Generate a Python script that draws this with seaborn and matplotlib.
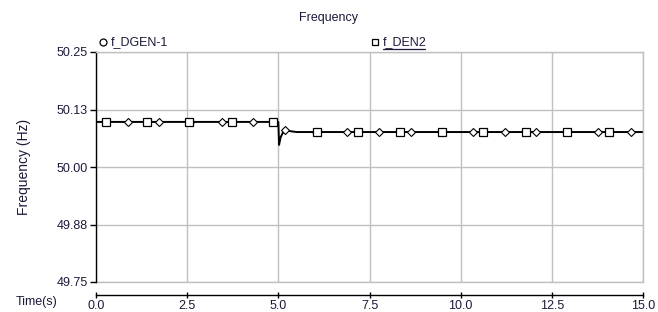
import matplotlib
matplotlib.use("Agg")
import matplotlib.pyplot as plt
from matplotlib.lines import Line2D
import seaborn as sns
import pandas as pd

# trace of the frequency (both generators follow the same curve)
time_s = [0.0, 4.99, 5.0, 5.02, 5.06, 5.12, 5.22, 5.32, 5.5, 15.0]
freq_hz = [50.098, 50.098, 50.098, 50.048, 50.064, 50.074, 50.080, 50.078, 50.076, 50.076]

# marker positions of each series
dgen_t = [0.87, 1.72, 2.58, 3.45, 4.31, 5.18, 6.04, 6.89, 7.76, 8.63, 9.48,
          10.35, 11.21, 12.06, 12.92, 13.77, 14.66]
dgen_f = [50.098, 50.098, 50.098, 50.098, 50.098, 50.080, 50.076, 50.076, 50.076,
          50.076, 50.076, 50.076, 50.076, 50.076, 50.076, 50.076, 50.076]
den2_t = [0.27, 1.41, 2.55, 3.72, 4.85, 6.05, 7.19, 8.34, 9.48, 10.62, 11.78,
          12.92, 14.07]
den2_f = [50.098, 50.098, 50.098, 50.098, 50.098, 50.076, 50.076, 50.076, 50.076,
          50.076, 50.076, 50.076, 50.076]

y_ticks = [49.75, 49.875, 50.0, 50.125, 50.25]
y_labels = ["49.75", "49.88", "50.00", "50.13", "50.25"]
x_ticks = [0.0, 2.5, 5.0, 7.5, 10.0, 12.5, 15.0]

sns.set_theme(style="white")
plt.rcParams["font.family"] = ["Liberation Sans", "DejaVu Sans"]
txt = "#1a1a3a"

fig = plt.figure(figsize=(6.58, 3.12), dpi=100)
ax = fig.add_axes([96 / 658, 1 - 282 / 312, (643 - 96) / 658, (282 - 52) / 312])

df = pd.DataFrame({"t": time_s, "f": freq_hz})
sns.lineplot(data=df, x="t", y="f", ax=ax, color="black", linewidth=1.4,
             estimator=None, sort=False)
ax.plot(dgen_t, dgen_f, linestyle="none", marker="D", markersize=4.2,
        markerfacecolor="white", markeredgecolor="black", markeredgewidth=0.8)
ax.plot(den2_t, den2_f, linestyle="none", marker="s", markersize=5.5,
        markerfacecolor="white", markeredgecolor="black", markeredgewidth=0.9)

ax.set_xlim(0, 15)
ax.set_ylim(49.75, 50.25)
ax.set_xticks(x_ticks)
ax.set_xticklabels([f"{v:.1f}" for v in x_ticks])
ax.set_yticks(y_ticks)
ax.set_yticklabels(y_labels)
ax.grid(True, color="#c0c0c0", linewidth=1.0)
ax.set_axisbelow(True)

for s in ["top", "right"]:
    ax.spines[s].set_color("#c0c0c0")
    ax.spines[s].set_linewidth(1.0)
ax.spines["left"].set_color("black")
ax.spines["left"].set_linewidth(1.0)
ax.spines["bottom"].set_color("black")
ax.spines["bottom"].set_linewidth(1.0)
# separate time axis about 13 px below the plot box
ax.spines["bottom"].set_position(("outward", 9.4))
# gray line closing the plot box at the bottom
ax.axhline(49.75, color="#c0c0c0", linewidth=1.0, clip_on=False, zorder=0)

ax.tick_params(axis="y", direction="out", length=4, width=1,
               color="black", labelsize=9, labelcolor=txt, pad=2, left=True)
ax.tick_params(axis="x", direction="inout", length=5, width=1,
               color="black", labelsize=9, labelcolor=txt, pad=1, bottom=True)
ax.set_xlabel("")
ax.set_ylabel("Frequency (Hz)", fontsize=10, color=txt, labelpad=18)

fig.text(0.5, 1 - 18 / 312, "Frequency", ha="center", va="center", fontsize=9, color=txt)
fig.text(16 / 658, 1 - 302 / 312, "Time(s)", ha="left", va="center", fontsize=9, color=txt)

# legend entries above the plot
ly = 1 - 42 / 312
fig.add_artist(Line2D([103 / 658], [ly], marker="o", markersize=5, linestyle="none",
                      markerfacecolor="white", markeredgecolor="black",
                      markeredgewidth=0.9, transform=fig.transFigure))
fig.text(111 / 658, ly, "f_DGEN-1", ha="left", va="center", fontsize=9, color=txt)
fig.add_artist(Line2D([375 / 658], [ly], marker="s", markersize=5, linestyle="none",
                      markerfacecolor="white", markeredgecolor="black",
                      markeredgewidth=0.9, transform=fig.transFigure))
fig.text(383 / 658, ly, "f_DEN2", ha="left", va="center", fontsize=9, color=txt)
fig.add_artist(Line2D([383 / 658, 425 / 658], [1 - 49 / 312, 1 - 49 / 312],
                      color=txt, linewidth=0.9, transform=fig.transFigure))

fig.savefig("out.png", dpi=100)
